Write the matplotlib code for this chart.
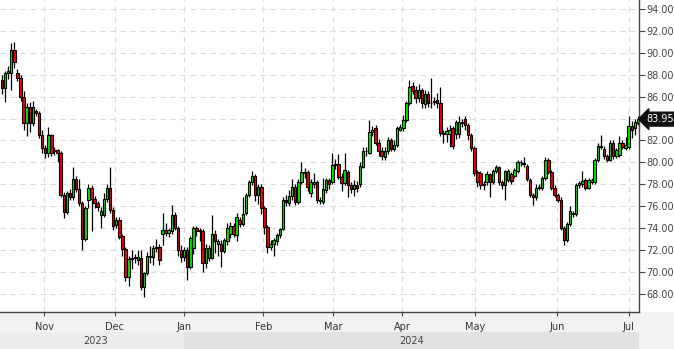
import matplotlib
matplotlib.use("Agg")
import matplotlib.pyplot as plt
from matplotlib.patches import Rectangle
import numpy as np

opens = [87.5,86.8,88.2,88.2,90.3,88.2,87.7,86.0,83.6,85.1,83.6,84.7,84.5,82.5,81.3,80.9,82.5,81.0,81.1,80.9,
         77.0,75.5,77.2,76.8,78.5,77.6,76.3,73.0,76.6,77.7,76.7,76.3,75.2,75.2,76.7,77.7,75.7,74.3,74.7,73.3,
         72.1,69.5,71.2,71.3,71.1,71.3,68.6,69.9,71.4,71.4,72.2,72.3,73.5,73.8,73.6,73.7,75.2,74.0,72.0,71.4,
         72.0,70.5,72.2,74.0,73.8,73.7,70.8,71.3,71.3,73.5,72.6,72.6,71.9,72.8,73.5,74.2,73.4,74.7,74.4,75.4,
         77.0,78.2,78.8,77.0,77.8,75.8,74.1,72.3,72.6,72.8,73.4,73.9,76.6,76.3,76.9,77.8,76.4,78.2,79.0,79.1,
         77.2,78.0,78.2,76.6,76.4,77.5,78.4,78.2,79.8,79.9,78.7,78.1,79.1,77.9,77.6,77.9,78.0,79.6,81.0,80.9,
         82.8,83.1,81.8,81.0,80.5,81.0,82.0,81.2,81.6,83.0,83.1,83.9,85.4,87.0,86.6,85.9,86.6,85.3,86.2,85.4,
         85.5,85.7,85.4,82.7,82.6,82.6,83.1,82.6,82.6,83.6,84.0,83.4,82.5,81.3,79.1,79.0,77.9,78.2,78.9,78.2,
         79.2,79.6,78.2,77.9,78.4,78.9,78.8,79.2,80.0,79.9,79.7,78.4,77.0,76.8,77.7,77.7,78.6,80.2,79.1,77.7,
         77.0,76.6,74.0,72.9,74.4,75.3,75.3,77.9,78.0,78.4,77.7,78.2,78.2,80.2,81.4,81.2,80.6,80.2,81.8,80.6,
         80.7,81.8,81.3,81.4,83.3,83.1,83.6]
highs = [88.0,88.3,88.8,90.9,91.0,88.5,88.0,86.5,85.4,85.5,85.6,84.9,84.7,83.0,81.6,83.2,82.6,81.4,81.2,81.0,
         77.3,77.4,77.6,79.6,78.8,78.5,76.5,76.0,78.0,77.9,76.9,76.5,75.9,77.2,78.0,79.6,75.9,75.0,75.0,73.5,
         72.3,71.5,72.0,71.6,72.0,72.0,70.0,71.8,72.4,72.5,73.0,72.6,75.4,74.5,74.0,76.1,75.5,74.2,72.5,72.3,
         72.3,73.3,74.2,74.2,74.0,73.9,72.6,72.5,75.2,73.8,73.0,72.9,73.1,74.5,74.6,74.5,75.4,75.0,76.8,77.2,
         78.4,79.2,78.9,78.0,78.0,76.0,74.3,72.9,73.1,73.6,74.0,76.8,77.0,77.5,78.5,78.0,78.5,80.0,79.5,79.3,
         78.5,79.0,78.4,76.8,78.6,78.6,78.6,80.9,80.3,80.8,79.0,80.9,79.3,78.2,78.4,78.3,80.0,81.4,81.4,83.9,
         83.3,83.4,82.1,81.4,81.4,82.3,82.2,82.0,83.3,83.5,84.3,85.6,87.5,87.3,87.0,87.2,86.8,86.6,86.5,87.7,
         86.0,86.3,86.9,83.0,83.2,83.4,83.3,83.9,84.2,84.0,84.2,83.6,82.7,81.5,79.3,79.2,78.3,79.2,79.0,79.4,
         79.8,79.7,78.4,79.3,79.4,79.1,79.5,80.2,80.2,80.5,79.9,78.6,77.2,78.0,78.0,78.8,80.5,80.4,79.3,77.9,
         77.2,76.8,74.2,74.6,76.0,75.6,78.1,78.3,79.2,78.6,78.6,78.6,80.4,81.8,82.5,81.5,80.8,82.0,82.0,81.3,
         82.4,82.0,82.3,84.2,83.8,84.0,84.2]
lows = [86.2,85.5,87.6,86.6,88.6,87.4,85.6,83.0,82.4,82.8,83.3,84.2,82.2,80.9,80.4,80.5,80.6,80.7,80.0,76.8,
        74.9,75.3,76.6,76.6,77.3,76.0,72.0,72.8,75.8,73.7,75.8,75.6,74.0,75.0,76.4,75.4,73.8,74.0,73.0,71.5,
        69.2,68.7,70.3,70.8,70.6,68.4,67.7,69.7,70.8,70.6,71.8,70.6,72.5,73.3,73.2,73.5,73.8,71.5,70.9,71.0,
        69.3,70.3,71.6,73.3,72.8,70.0,70.4,71.0,71.2,71.7,71.5,70.5,71.7,72.5,73.1,73.2,72.8,74.1,74.2,75.2,
        76.8,77.9,76.5,76.2,75.3,73.5,71.7,72.0,71.5,72.5,73.1,73.8,76.0,76.0,76.6,76.1,76.2,78.0,78.6,77.4,
        76.8,77.7,76.3,76.2,76.2,77.2,77.6,78.0,79.4,78.5,77.4,77.9,76.8,77.2,76.9,77.3,77.8,79.5,80.6,80.8,
        82.4,81.6,80.6,80.2,80.2,80.8,81.0,81.0,81.4,82.9,82.9,83.7,85.2,86.2,85.4,85.5,85.0,85.0,85.1,85.0,
        85.2,85.0,82.4,81.8,81.9,81.4,81.2,82.1,82.2,83.2,83.0,82.0,81.0,78.8,77.8,77.6,77.5,77.9,76.8,78.0,
        79.0,77.9,77.6,76.6,78.2,78.0,78.6,79.0,79.7,79.6,78.3,76.8,76.1,76.6,77.5,77.5,78.4,78.9,77.5,76.8,
        76.4,73.8,72.5,72.7,74.2,75.0,75.1,77.7,77.8,77.5,77.6,78.0,78.0,80.0,81.2,80.3,80.0,80.1,80.3,80.4,
        80.5,81.2,81.1,81.2,82.2,82.5,83.4]
closes = [86.8,88.2,88.3,90.3,89.2,87.7,86.0,83.6,85.1,83.6,85.1,84.5,82.5,81.3,80.9,82.5,80.9,81.1,80.9,77.0,
          75.5,77.2,76.8,78.5,77.6,76.3,73.0,75.8,77.7,76.7,76.3,75.9,75.6,76.7,77.7,75.7,74.2,74.7,73.2,72.1,
          69.5,71.2,71.3,71.35,71.4,68.6,69.9,71.5,71.5,72.2,72.3,71.1,73.8,73.6,73.8,75.2,74.0,72.0,71.4,72.0,
          70.5,73.1,74.0,73.7,73.7,70.8,72.2,72.2,73.5,72.8,72.8,71.9,72.9,74.0,74.2,73.5,75.0,74.4,75.3,77.0,
          78.2,78.8,77.0,77.8,75.8,74.1,72.3,72.6,72.9,73.4,73.9,76.6,76.4,76.9,77.8,76.4,78.2,79.1,79.1,77.8,
          78.2,78.2,76.6,76.5,77.6,78.4,78.0,79.8,79.9,78.7,78.1,79.3,77.9,77.6,77.9,77.7,79.7,81.0,81.05,82.8,
          83.0,81.8,81.0,80.6,81.0,82.0,81.2,81.6,83.1,83.2,83.9,85.4,86.9,86.5,85.9,86.6,85.4,86.2,85.4,85.45,
          85.6,85.4,82.7,82.6,82.9,83.0,81.5,83.7,83.7,83.7,83.4,82.5,81.3,79.0,78.2,77.9,78.0,78.9,78.2,79.2,
          79.6,78.2,77.9,79.2,79.2,78.3,79.3,80.0,80.05,79.95,78.5,77.0,76.8,77.7,77.75,78.6,80.2,79.1,77.7,77.0,
          76.6,74.0,72.9,74.4,75.6,75.35,77.9,78.1,78.3,77.7,78.4,78.4,80.2,81.5,81.5,80.6,80.2,81.8,80.6,81.1,
          81.8,81.4,81.6,83.3,83.0,83.7,83.95]

month_pos = [13.7, 36.5, 59, 84.7, 107.3, 129.7, 153.2, 179.8, 203]
month_labels = ["Nov", "Dec", "Jan", "Feb", "Mar", "Apr", "May", "Jun", "Jul"]
year_labels = ["2023", "2024"]
y_ticks = [68, 70, 72, 74, 76, 78, 80, 82, 84, 86, 88, 90, 92, 94]
last_price = 83.95

o = np.array(opens); h = np.array(highs); l = np.array(lows); c = np.array(closes)
n = len(c)
x = np.arange(n)

fig = plt.figure(figsize=(6.74, 3.49), dpi=100)
fig.patch.set_facecolor("white")
ax = fig.add_axes([0.0, 37/349, 639/674, 312/349])
ax.set_facecolor("white")

# bottom strip background
fig.patches.append(Rectangle((0, 0), 1, 37/349, transform=fig.transFigure,
                             facecolor="#f2f2f2", edgecolor="none", zorder=-5))

ax.set_ylim(66.35, 94.82)
ax.set_xlim(-0.65, n - 1 + 0.35)

# grid
for yv in y_ticks:
    ax.axhline(yv, color="#dcdcdc", lw=0.8, ls=(0, (5, 4)), zorder=0)
for xv in month_pos:
    ax.axvline(xv, color="#dcdcdc", lw=0.8, ls=(0, (5, 4)), zorder=0)

# candles
ax.vlines(x, l, h, color="black", lw=0.9, zorder=2)
up = c >= o
bottoms = np.minimum(o, c)
heights = np.maximum(np.abs(c - o), 0.06)
colors = np.where(up, "#00e400", "#ee0000")
ax.bar(x, heights, bottom=bottoms, width=0.78, color=colors, edgecolor="black",
       linewidth=0.8, zorder=3)

# spines
for s in ["left", "top"]:
    ax.spines[s].set_visible(False)
for s in ["right", "bottom"]:
    ax.spines[s].set_color("#444444")
    ax.spines[s].set_linewidth(1.0)

ax.yaxis.tick_right()
ax.set_yticks(y_ticks)
ax.set_yticklabels([f"{v:.2f}" for v in y_ticks])
ax.tick_params(axis="y", direction="out", length=4, width=0.8, color="#444444",
               labelsize=7, labelcolor="#444444", pad=1)
ax.set_xticks(month_pos)
ax.set_xticklabels(month_labels)
ax.tick_params(axis="x", direction="out", length=3, width=0.8, color="#444444",
               labelsize=7, labelcolor="#333333", pad=4)

# year band
tr = ax.get_xaxis_transform()
x0 = ax.get_xlim()[0]; x1 = ax.get_xlim()[1]
ax.add_patch(Rectangle((x0, -0.119), month_pos[2] - x0, 0.055, transform=tr,
                       facecolor="#ececec", edgecolor="none", clip_on=False, zorder=-1))
ax.add_patch(Rectangle((month_pos[2], -0.119), x1 - month_pos[2], 0.055, transform=tr,
                       facecolor="#e2e2e2", edgecolor="none", clip_on=False, zorder=-1))
ax.text((x0 + month_pos[2]) / 2 + 1, -0.093, year_labels[0], transform=tr, ha="center",
        va="center", fontsize=7, color="#444444")
ax.text((month_pos[2] + x1) / 2, -0.093, year_labels[1], transform=tr, ha="center",
        va="center", fontsize=7, color="#444444")

# last price label
ax.annotate(f"{last_price:.2f}", xy=(1.0, last_price), xycoords=("axes fraction", "data"),
            xytext=(5, 0), textcoords="offset points", ha="left", va="center",
            fontsize=7, color="white",
            bbox=dict(boxstyle="larrow,pad=0.2", fc="#111111", ec="#111111"),
            annotation_clip=False, zorder=10)

fig.savefig("out.png", dpi=100, facecolor=fig.get_facecolor())
